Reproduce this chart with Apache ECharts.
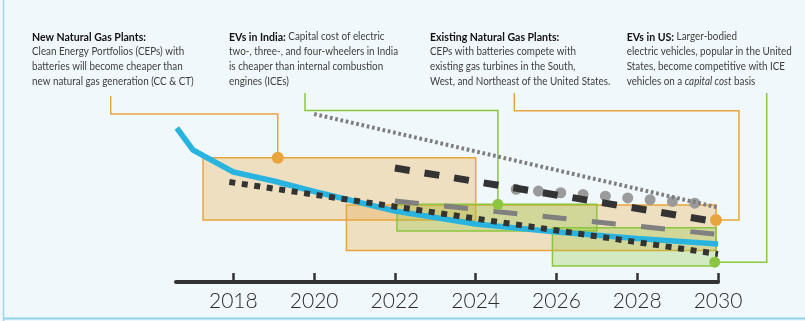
<!DOCTYPE html>
<html>
<head>
<meta charset="utf-8">
<script src="https://cdn.jsdelivr.net/npm/echarts@6/dist/echarts.min.js"></script>
<style>
  html, body { margin: 0; padding: 0; background: #f1f8fb; }
  #chart { width: 805px; height: 321px; }
</style>
</head>
<body>
<div id="chart"></div>
<script>
// Year ticks along the timeline
const tickYears = [2018, 2020, 2022, 2024, 2026, 2028, 2030];

// Relative cost index (0 = timeline, 100 = top of plotting band)
const cepYears = [2016.6, 2017, 2018, 2019, 2020, 2022, 2024, 2026, 2028, 2030];
const cepCost  = [77, 66, 55, 50.5, 45.25, 35.5, 29, 25, 21.75, 19];

const newGasYears = [2017.9, 2024, 2030];
const newGasCost  = [50, 31.7, 14];

const indiaIceYears = [2020, 2030];
const indiaIceCost  = [84, 37.25];

const existingGasYears = [2022, 2030];
const existingGasCost  = [57, 30];

const usIceYears = [2025, 2029.47];
const usIceCost  = [46.35, 39.35];

const usEvYears = [2022, 2030];
const usEvCost  = [40.5, 23.75];

// Crossover windows: [startYear, upper, endYear, lower]
const newGasWindow      = [2017.25, 62.15, 2024, 31];
const existingGasWindow = [2020.8, 38.5, 2029.95, 15.75];
const indiaEvWindow     = [2022.05, 38.85, 2027, 25.5];
const usEvWindow        = [2025.9, 27.15, 2029.95, 8];

// Callout anchors
const orangeAnchorYears = [2019.1, 2029.95];
const orangeAnchorCost  = [62.15, 31];
const greenAnchorYears  = [2024.55, 2029.92];
const greenAnchorCost   = [38.85, 9.9];

// Callout texts
const noteNewGas = ['New Natural Gas Plants:', 'Clean Energy Portfolios (CEPs) with', 'batteries will become cheaper than', 'new natural gas generation (CC & CT)'];
const noteIndia = ['EVs in India:', ' Capital cost of electric', 'two-, three-, and four-wheelers in India', 'is cheaper than internal combustion', 'engines (ICEs)'];
const noteExisting = ['Existing Natural Gas Plants:', 'CEPs with batteries compete with', 'existing gas turbines in the South,', 'West, and Northeast of the United States.'];
const noteUS = ['EVs in US:', ' Larger-bodied', 'electric vehicles, popular in the United', 'States, become competitive with ICE', 'vehicles on a ', 'capital cost', ' basis'];

const ORANGE = '#e8a53b';
const GREEN = '#8cc63f';
const DARK = '#333333';

const pairs = (xs, ys) => xs.map((x, i) => [x, ys[i]]);

function windowArea(w, fill, border) {
  return [
    { coord: [w[0], w[1]], itemStyle: { color: fill, borderColor: border, borderWidth: 1.5 } },
    { coord: [w[2], w[3]] }
  ];
}

const chart = echarts.init(document.getElementById('chart'), null, { renderer: 'canvas' });

function lineSeries(name, xs, ys, style, z) {
  return {
    name: name, type: 'line', data: pairs(xs, ys), symbol: 'none', z: z,
    lineStyle: style, silent: true, animation: false
  };
}

const ORANGE_FILL = 'rgba(232,165,59,0.3)';
const GREEN_FILL = 'rgba(140,198,63,0.3)';

chart.setOption({
  backgroundColor: '#f1f8fb',
  animation: false,
  grid: { left: 176, right: 87, top: 82, bottom: 39 },
  xAxis: {
    type: 'value', min: 2016.58, max: 2030,
    axisLine: { show: true, lineStyle: { color: DARK, width: 4 } },
    axisTick: { show: true, inside: true, length: 9, customValues: tickYears, lineStyle: { color: DARK, width: 2.5 } },
    axisLabel: {
      show: true, customValues: tickYears, margin: 9,
      formatter: v => String(v),
      color: '#2b2b2b', fontSize: 21, fontFamily: 'Lato', fontWeight: 300
    },
    splitLine: { show: false }
  },
  yAxis: { type: 'value', min: 0, max: 100, show: false, splitLine: { show: false } },
  series: [
    {
      name: 'windows', type: 'line', data: [], silent: true,
      markArea: {
        silent: true,
        label: { show: false },
        data: [
          windowArea(newGasWindow, ORANGE_FILL, ORANGE),
          windowArea(existingGasWindow, ORANGE_FILL, ORANGE),
          windowArea(indiaEvWindow, GREEN_FILL, GREEN),
          windowArea(usEvWindow, GREEN_FILL, GREEN)
        ]
      }
    },
    lineSeries('usIce', usIceYears, usIceCost, { color: '#9b9b9b', width: 11, type: [0, 22.4], cap: 'round' }, 2),
    lineSeries('cep', cepYears, cepCost, { color: '#29b4e0', width: 5.5 }, 3),
    lineSeries('newGas', newGasYears, newGasCost, { color: DARK, width: 6, type: [6, 6.6], cap: 'butt' }, 4),
    lineSeries('existingGas', existingGasYears, existingGasCost, { color: DARK, width: 7, type: [15, 15] }, 4),
    lineSeries('usEv', usEvYears, usEvCost, { color: '#808080', width: 5, type: [24, 25.5] }, 4),
    lineSeries('indiaIce', indiaIceYears, indiaIceCost, { color: '#7d7d7d', width: 4, type: [2.7, 2.7] }, 4),
    {
      name: 'orangeAnchors', type: 'scatter', data: pairs(orangeAnchorYears, orangeAnchorCost),
      symbolSize: 12, itemStyle: { color: ORANGE, opacity: 1 }, z: 6, silent: true
    },
    {
      name: 'greenAnchors', type: 'scatter', data: pairs(greenAnchorYears, greenAnchorCost),
      symbolSize: 11, itemStyle: { color: GREEN, opacity: 1 }, z: 6, silent: true
    }
  ]
});

// Callout connectors, routed from each anchor up to its text block
const toPx = p => chart.convertToPixel({ xAxisIndex: 0, yAxisIndex: 0 }, p);
const oA = toPx([orangeAnchorYears[0], orangeAnchorCost[0]]);
const oB = toPx([orangeAnchorYears[1], orangeAnchorCost[1]]);
const gA = toPx([greenAnchorYears[0], greenAnchorCost[0]]);
const gB = toPx([greenAnchorYears[1], greenAnchorCost[1]]);

function connector(points, color) {
  return {
    type: 'polyline', silent: true, z: 1,
    shape: { points: points },
    style: { stroke: color, lineWidth: 1.5, fill: null }
  };
}

const rich = {
  h: { fontFamily: 'Lato', fontWeight: 'bold', fontSize: 11.8, fill: '#111111', lineHeight: 14.7 },
  t: { fontFamily: 'Lato', fontWeight: 'normal', fontSize: 11, fill: '#3d3d3d', lineHeight: 14.7 },
  i: { fontFamily: 'Lato', fontStyle: 'italic', fontWeight: 'normal', fontSize: 11, fill: '#3d3d3d', lineHeight: 14.7 }
};

// Narrowed text blocks
function note(x, text) {
  return {
    type: 'text', x: x, y: 29.6, scaleX: 0.895, silent: true, z: 10,
    style: { text: text, rich: rich, verticalAlign: 'top', align: 'left' }
  };
}

chart.setOption({
  graphic: [
    { type: 'line', silent: true, shape: { x1: 3.5, y1: 0, x2: 3.5, y2: 321 }, style: { stroke: '#9fd9e7', lineWidth: 1.5 } },
    { type: 'line', silent: true, shape: { x1: 3, y1: 318.5, x2: 805, y2: 318.5 }, style: { stroke: '#8fd6e8', lineWidth: 2 } },
    connector([[110.7, 96], [110.7, 114], [oA[0], 114], oA], ORANGE),
    connector([[305, 93], [305, 110.5], [gA[0], 110.5], gA], GREEN),
    connector([[514.3, 93], [514.3, 110.7], [739, 110.7], [739, oB[1]], oB], ORANGE),
    connector([[766.7, 93], [766.7, gB[1]], gB], GREEN),
    note(32, '{h|' + noteNewGas[0] + '}\n{t|' + noteNewGas.slice(1).join('}\n{t|') + '}'),
    note(229, '{h|' + noteIndia[0] + '}{t|' + noteIndia[1] + '}\n{t|' + noteIndia.slice(2).join('}\n{t|') + '}'),
    note(430, '{h|' + noteExisting[0] + '}\n{t|' + noteExisting.slice(1).join('}\n{t|') + '}'),
    note(626.7, '{h|' + noteUS[0] + '}{t|' + noteUS[1] + '}\n{t|' + noteUS[2] + '}\n{t|' + noteUS[3] + '}\n{t|' + noteUS[4] + '}{i|' + noteUS[5] + '}{t|' + noteUS[6] + '}')
  ]
});
</script>
</body>
</html>
